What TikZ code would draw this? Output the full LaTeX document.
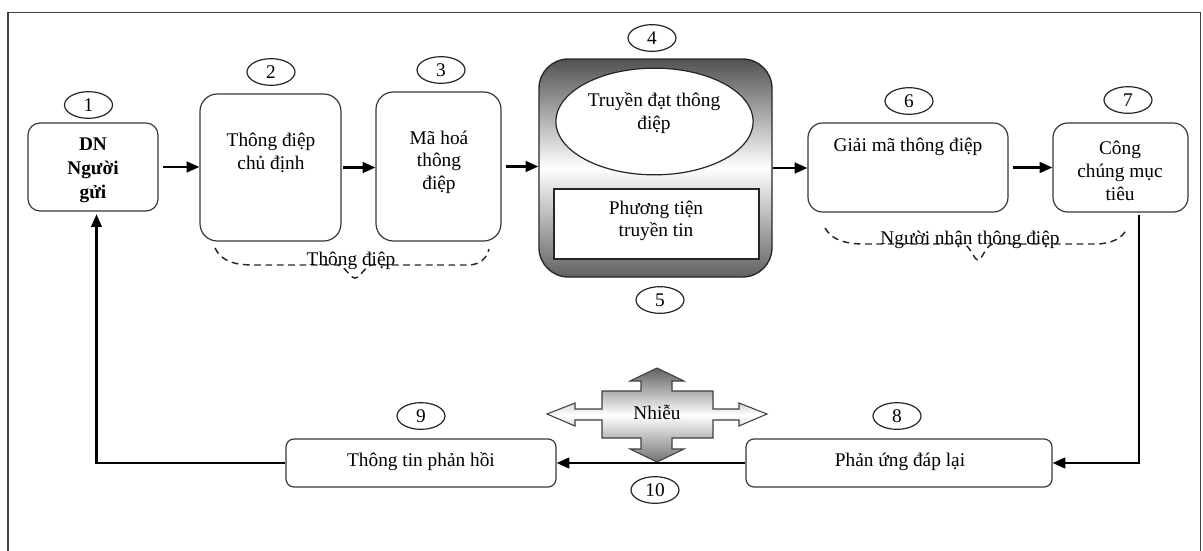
\documentclass[tikz,border=0pt]{standalone}
\usepackage{fontspec}
\setmainfont{Liberation Serif}
\usetikzlibrary{fit,arrows.meta,shapes.geometric,calc}

\begin{document}
\begin{tikzpicture}[x=0.75pt,y=-0.75pt,
  every node/.style={font=\fontsize{14.5}{17}\selectfont},
  box/.style={draw=black!78, line width=0.9pt, rounded corners=#1, inner sep=0pt, fill=white},
  box/.default=9pt,
  numoval/.style={draw=black!85, ellipse, line width=0.9pt, inner sep=0pt,
    minimum width=36pt, minimum height=20pt, fill=white},
  txt/.style={align=center, inner sep=0pt},
  flow/.style={line width=1.6pt, -{Triangle[length=9.5pt,width=8pt]}},
  brace/.style={line width=1.1pt, black!85, dash pattern=on 5pt off 3.5pt}
]
\useasboundingbox (0,0) rectangle (1203,550);
% outer frame (open at the bottom)
\draw[line width=1pt, black!75] (8,551) -- (8,12.5) -- (1200.5,12.5) -- (1200.5,551);

% main boxes
\node[box=9pt,  fit={(28,123) (158,211)}]  (b1) {};
\node[box=13pt, fit={(200,94) (341,241)}]  (b2) {};
\node[box=13pt, fit={(376,92) (501,241)}]  (b3) {};
\node[box=11pt, fit={(808,123) (1008,212)}] (b6) {};
\node[box=11pt, fit={(1053,123) (1188,212)}] (b7) {};
\node[box=6pt,  fit={(746,439) (1052,487)}] (b8) {};
\node[box=6pt,  fit={(286,439) (556,487)}]  (b9) {};

% channel block with its grey gradient
\node[draw=black!85, line width=1pt, rounded corners=22pt, inner sep=0pt,
      fit={(539,59) (772,277)},
      top color=black!68, bottom color=black!62, middle color=white] (b4) {};
\node[draw=black!85, line width=0.9pt, ellipse, inner sep=0pt, fill=white,
      minimum width=148pt, minimum height=80pt] (e4) at (654.5,121.5) {};
\node[draw=black!85, line width=0.9pt, inner sep=0pt, fill=white,
      fit={(554,189) (759,259)}] (r5) {};

% texts in the boxes
\node[txt, font=\fontsize{14.5}{18}\selectfont\bfseries] (t1) at (93,170) {DN\\Người\\gửi};
\node[txt] (t2) at (271,153) {Thông điệp\\chủ định};
\node[txt] (t3) at (439,162) {Mã hoá\\thông\\điệp};
\node[txt] (t4) at (654,113) {Truyền đạt thông\\điệp};
\node[txt] (t5) at (656,221) {Phương tiện\\truyền tin};
\node[txt] (t6) at (908,147) {Giải mã thông điệp};
\node[txt] (t7) at (1120,171) {Công\\chúng mục\\tiêu};
\node[txt] (t8) at (900,462) {Phản ứng đáp lại};
\node[txt] (t9) at (421,462) {Thông tin phản hồi};

% step numbers
\node[numoval] (n1)  at (88.5,105) {1};
\node[numoval] (n2)  at (271,72)   {2};
\node[numoval] (n3)  at (441,70)   {3};
\node[numoval] (n4)  at (652,38)   {4};
\node[numoval] (n5)  at (660,300)  {5};
\node[numoval] (n6)  at (909,101)  {6};
\node[numoval] (n7)  at (1128,100) {7};
\node[numoval] (n8)  at (897,416)  {8};
\node[numoval] (n9)  at (421,416)  {9};
\node[numoval] (n10) at (655,490)  {10};

% dashed groupings under the boxes
\draw[brace] (215,248) .. controls (222,262) and (235,265) .. (255,265) -- (338,265)
  .. controls (345,266) and (350,278) .. (355,278)
  .. controls (360,278) and (365,266) .. (372,265) -- (468,265)
  .. controls (480,265) and (487,258) .. (489,249);
\node[txt] (g1) at (351,261) {Thông điệp};
\draw[brace] (825,228) .. controls (832,240) and (845,244) .. (865,244) -- (963,244)
  .. controls (970,245) and (974,260) .. (978,260)
  .. controls (982,260) and (986,245) .. (993,244) -- (1095,244)
  .. controls (1112,244) and (1123,238) .. (1127,228);
\node[txt] (g2) at (970,240) {Người nhận thông điệp};

% noise: four-way arrow
\draw[black!75, line width=0.8pt, top color=black!62, bottom color=black!55, middle color=white]
  (657,368) -- (684,381) -- (672,381) -- (672,391) -- (713,391) -- (713,409) -- (739,409)
  -- (739,403) -- (767,414) -- (739,426) -- (739,420) -- (713,420) -- (713,438)
  -- (672,438) -- (672,449) -- (684,449) -- (657,462) -- (630,449) -- (641,449)
  -- (641,438) -- (602,438) -- (602,420) -- (575,420) -- (575,426) -- (547,414)
  -- (575,403) -- (575,409) -- (602,409) -- (602,391) -- (641,391) -- (641,381)
  -- (630,381) -- cycle;
\node[txt] (nz) at (657,412) {Nhiễu};

% flow of the message
\draw[flow] ([xshift=3pt]b1.east) -- (b2.west |- b1.east);
\draw[flow] ([xshift=1pt]b2.east) -- (b3.west |- b2.east);
\draw[flow] ([xshift=3pt]b3.east) -- (b4.west |- b3.east);
\draw[flow] (b4.east) -- (b6.west |- b4.east);
\draw[flow] ([xshift=3pt]b6.east) -- (b7.west |- b6.east);

% response and feedback loop
\coordinate (c7) at (1139,463);
\coordinate (c9) at (96.5,463);
\draw[flow] ([yshift=-1.5pt]b7.south -| c7) -- (c7) -- (b8.east);
\draw[flow] (b8.west) -- (b9.east);
\draw[flow, shorten >=2pt] (b9.west) -- (c9) -- (c9 |- b1.south);
\end{tikzpicture}
\end{document}
